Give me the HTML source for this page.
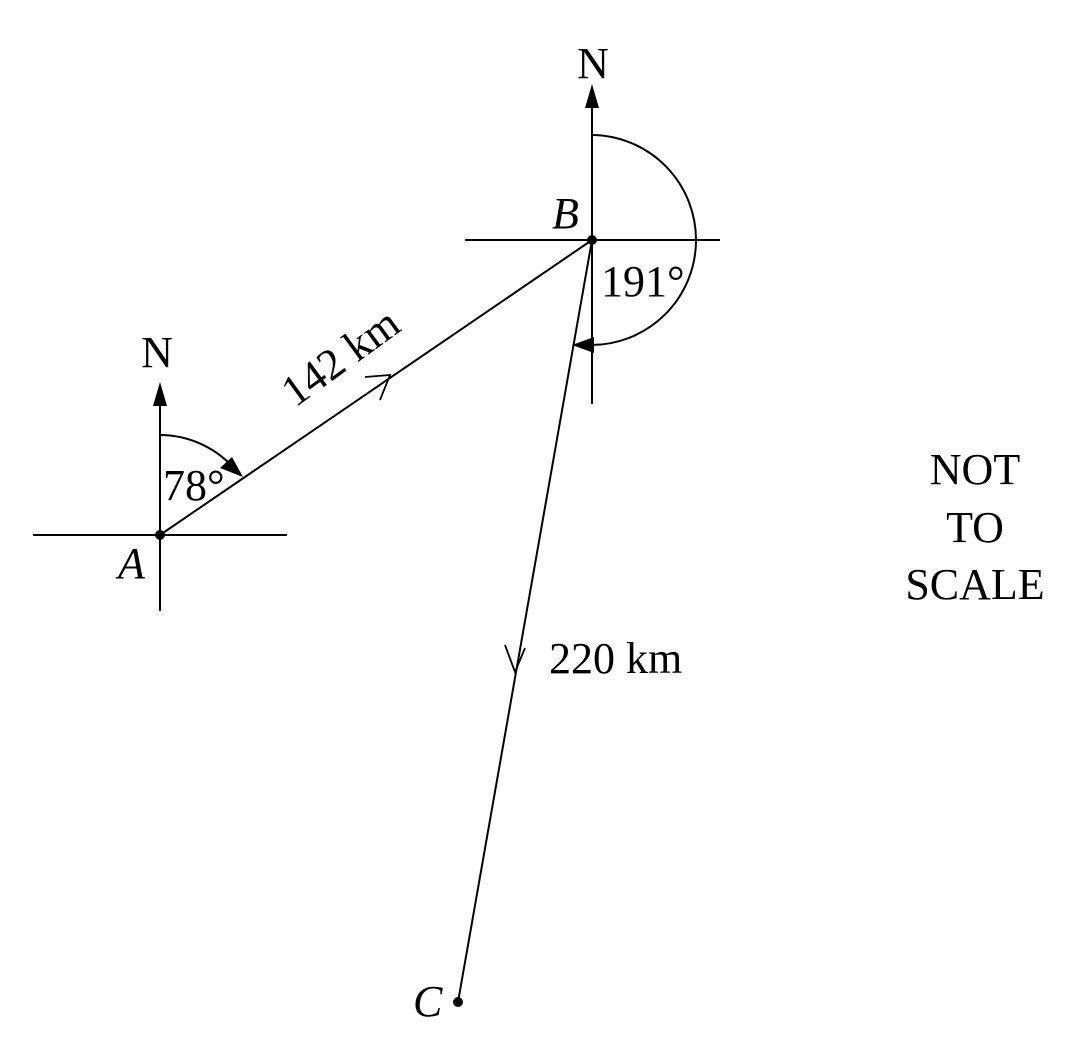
<!DOCTYPE html>
<html><head><style>body{margin:0;background:#fff}svg{display:block}</style></head>
<body>
<svg width="1079" height="1058" viewBox="0 0 1079 1058" xmlns="http://www.w3.org/2000/svg" font-family="Liberation Serif, serif" fill="none" stroke="#000" stroke-width="2">
<line x1="33" y1="535" x2="287" y2="535"/>
<line x1="160" y1="400" x2="160" y2="611"/>
<polygon points="160,382 153,406 167,406" fill="#000" stroke="none"/>
<line x1="465" y1="240" x2="720" y2="240"/>
<line x1="592" y1="105" x2="592" y2="404"/>
<polygon points="592,84 585,108 599,108" fill="#000" stroke="none"/>
<line x1="160" y1="535" x2="592" y2="240"/>
<polyline points="365,377 390,375 380,400" stroke-width="1.8"/>
<line x1="592" y1="240" x2="458" y2="1002"/>
<polyline points="505,645 515,672 525,648" stroke-width="1.8"/>
<path d="M160,435 A100,100 0 0 1 232,466"/>
<polygon points="243,477 220,468 232,457" fill="#000" stroke="none"/>
<path d="M592,135 A105,105 0 0 1 590,345"/>
<polygon points="572,345 594,337 594,353" fill="#000" stroke="none"/>
<circle cx="160" cy="535" r="5" fill="#000" stroke="none"/>
<circle cx="592" cy="240" r="5" fill="#000" stroke="none"/>
<circle cx="458" cy="1002" r="5" fill="#000" stroke="none"/>
<g fill="#000" stroke="none" font-size="44">
<text x="593" y="78" text-anchor="middle">N</text>
<text x="157" y="367" text-anchor="middle">N</text>
<text x="163" y="500">78°</text>
<text x="601" y="296">191°</text>
<text x="549" y="673">220 km</text>
<text transform="translate(295,408) rotate(-36)">142 km</text>
<text x="118" y="578" font-style="italic">A</text>
<text x="552" y="228" font-style="italic">B</text>
<text x="413" y="1016" font-style="italic">C</text>
<text x="975" y="484" text-anchor="middle">NOT</text>
<text x="975" y="542" text-anchor="middle">TO</text>
<text x="975" y="599" text-anchor="middle">SCALE</text>
</g>
</svg>
</body></html>
